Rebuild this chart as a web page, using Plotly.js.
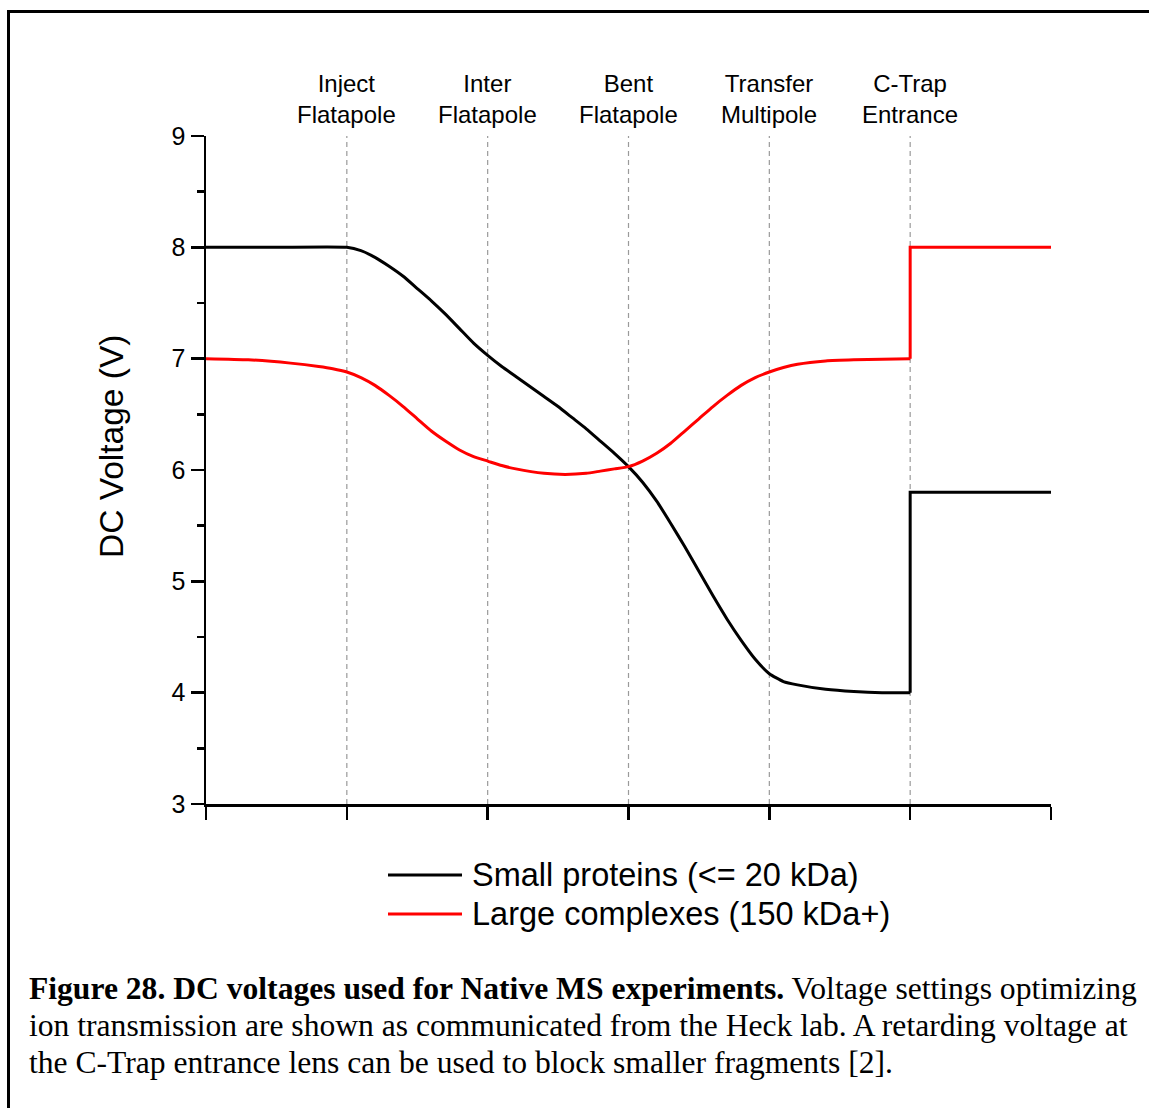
<!DOCTYPE html>
<html>
<head>
<meta charset="utf-8">
<script src="https://cdn.plot.ly/plotly-3.0.1.min.js"></script>
<style>
  html, body { margin: 0; padding: 0; background: #fff; }
  #wrap { position: relative; width: 1149px; height: 1108px; overflow: hidden; }
  #chart { position: absolute; left: 0; top: 0; width: 1149px; height: 1108px; }
  #frame { position: absolute; left: 7px; top: 10px; width: 1200px; height: 1200px;
           border-left: 3px solid #000; border-top: 3px solid #000; pointer-events: none; }
</style>
</head>
<body>
<div id="wrap">
  <div id="chart"></div>
  <div id="frame"></div>
</div>
<script>
// ---- data ----
const stageLabels = ["Inject<br>Flatapole", "Inter<br>Flatapole", "Bent<br>Flatapole", "Transfer<br>Multipole", "C-Trap<br>Entrance"];
const stagePositions = [1, 2, 3, 4, 5];

const smallName = "Small proteins (<= 20 kDa)";
const smallX = [0, 0.5, 1.0, 1.1, 1.2, 1.3, 1.4, 1.5, 1.6, 1.7, 1.8, 1.9, 2.0, 2.1, 2.2, 2.3, 2.4, 2.5, 2.6, 2.7, 2.8, 2.9, 3.0, 3.1, 3.2, 3.3, 3.4, 3.5, 3.6, 3.7, 3.8, 3.9, 4.0, 4.1, 4.2, 4.4, 4.6, 4.8, 5.0];
const smallY = [8.0, 8.0, 8.0, 7.97, 7.91, 7.83, 7.74, 7.63, 7.52, 7.40, 7.27, 7.14, 7.03, 6.93, 6.84, 6.75, 6.66, 6.57, 6.47, 6.37, 6.26, 6.15, 6.03, 5.89, 5.72, 5.52, 5.31, 5.09, 4.87, 4.66, 4.47, 4.30, 4.17, 4.10, 4.07, 4.03, 4.01, 4.0, 4.0];
const smallStepX = [5, 5, 6];
const smallStepY = [4.0, 5.8, 5.8];

const largeName = "Large complexes (150 kDa+)";
const largeX = [0, 0.3, 0.6, 0.8, 0.9, 1.0, 1.1, 1.2, 1.3, 1.4, 1.5, 1.6, 1.7, 1.8, 1.9, 2.0, 2.1, 2.2, 2.4, 2.55, 2.7, 2.8, 2.9, 3.0, 3.1, 3.2, 3.3, 3.4, 3.5, 3.6, 3.7, 3.8, 3.9, 4.0, 4.1, 4.2, 4.4, 4.6, 5.0];
const largeY = [7.0, 6.99, 6.96, 6.93, 6.91, 6.88, 6.83, 6.76, 6.67, 6.57, 6.46, 6.35, 6.26, 6.18, 6.12, 6.08, 6.04, 6.01, 5.97, 5.96, 5.97, 5.99, 6.01, 6.03, 6.08, 6.15, 6.24, 6.35, 6.46, 6.57, 6.67, 6.76, 6.83, 6.88, 6.92, 6.95, 6.98, 6.99, 7.0];
const largeStepX = [5, 5, 6];
const largeStepY = [7.0, 8.0, 8.0];

const yTitle = "DC Voltage (V)";
const captionLines = [
  "<b>Figure 28. DC voltages used for Native MS experiments.</b> Voltage settings optimizing",
  "ion transmission are shown as communicated from the Heck lab. A retarding voltage at",
  "the C-Trap entrance lens can be used to block smaller fragments [2]."
];

// ---- helpers (pixel -> paper) ----
const L = 206, R = 1051, T = 136, B = 804;
const px = v => (v - L) / (R - L);
const py = v => (B - v) / (B - T);

const sans = "Liberation Sans, Arial, sans-serif";
const serif = "Liberation Serif, Times New Roman, serif";

const traces = [
  {x: smallX, y: smallY, name: smallName, mode: "lines",
   line: {color: "#000000", width: 3, shape: "spline", smoothing: 0.5}},
  {x: largeX, y: largeY, name: largeName, mode: "lines",
   line: {color: "#ff0000", width: 3, shape: "spline", smoothing: 0.5}},
  {x: smallStepX, y: smallStepY, name: smallName, mode: "lines",
   line: {color: "#000000", width: 3}},
  {x: largeStepX, y: largeStepY, name: largeName, mode: "lines",
   line: {color: "#ff0000", width: 3}}
];

const shapes = stagePositions.map(p => ({
  type: "line", xref: "x", yref: "y", x0: p, x1: p, y0: 3, y1: 9,
  line: {color: "#9a9a9a", width: 1.2, dash: "5px,4px"}, layer: "below"
}));

// legend (manual, to match the long sample lines)
const legendItems = [
  {name: smallName, color: "#000000", yPix: 875},
  {name: largeName, color: "#ff0000", yPix: 914}
];
legendItems.forEach(it => {
  shapes.push({type: "line", xref: "paper", yref: "paper",
    x0: px(388), x1: px(462), y0: py(it.yPix), y1: py(it.yPix),
    line: {color: it.color, width: 3}});
});

const annotations = stagePositions.map((p, i) => ({
  x: p, y: 1, xref: "x", yref: "paper", yanchor: "bottom", xanchor: "center",
  text: stageLabels[i], showarrow: false, yshift: 6,
  font: {family: sans, size: 24, color: "#000"}
}));
annotations.push({
  x: px(111), y: py(447), xref: "paper", yref: "paper", textangle: -90,
  text: yTitle, showarrow: false, xanchor: "center", yanchor: "middle",
  font: {family: sans, size: 33.5, color: "#000"}
});
legendItems.forEach(it => {
  annotations.push({
    x: px(470), y: py(it.yPix), xref: "paper", yref: "paper",
    xanchor: "left", yanchor: "middle", showarrow: false, text: it.name,
    font: {family: sans, size: 32.5, color: "#000"}
  });
});
const captionY = [988, 1025, 1062];
captionLines.forEach((t, i) => {
  annotations.push({
    x: px(27), y: py(captionY[i]), xref: "paper", yref: "paper",
    xanchor: "left", yanchor: "middle", align: "left", showarrow: false, text: t,
    font: {family: serif, size: 31.6, color: "#000"}
  });
});

const layout = {
  width: 1149, height: 1108,
  margin: {l: L, r: 1149 - R, t: T, b: 1108 - B, pad: 0},
  paper_bgcolor: "#ffffff", plot_bgcolor: "#ffffff",
  showlegend: false,
  xaxis: {range: [0, 6], showgrid: false, zeroline: false, showline: true, linecolor: "#000", linewidth: 2.5,
          ticks: "outside", ticklen: 13, tickwidth: 2.5, tickcolor: "#000", dtick: 1, tick0: 0,
          showticklabels: false, fixedrange: true},
  yaxis: {range: [3, 9], showgrid: false, zeroline: false, showline: true, linecolor: "#000", linewidth: 2.5,
          ticks: "outside", ticklen: 13, tickwidth: 2.5, tickcolor: "#000", dtick: 1, tick0: 3,
          tickfont: {family: sans, size: 25, color: "#000"},
          minor: {ticks: "outside", ticklen: 7, tickwidth: 2.5, tickcolor: "#000", dtick: 0.5, showgrid: false},
          fixedrange: true},
  shapes: shapes,
  annotations: annotations
};

Plotly.newPlot("chart", traces, layout, {displayModeBar: false, staticPlot: true});
</script>
</body>
</html>
